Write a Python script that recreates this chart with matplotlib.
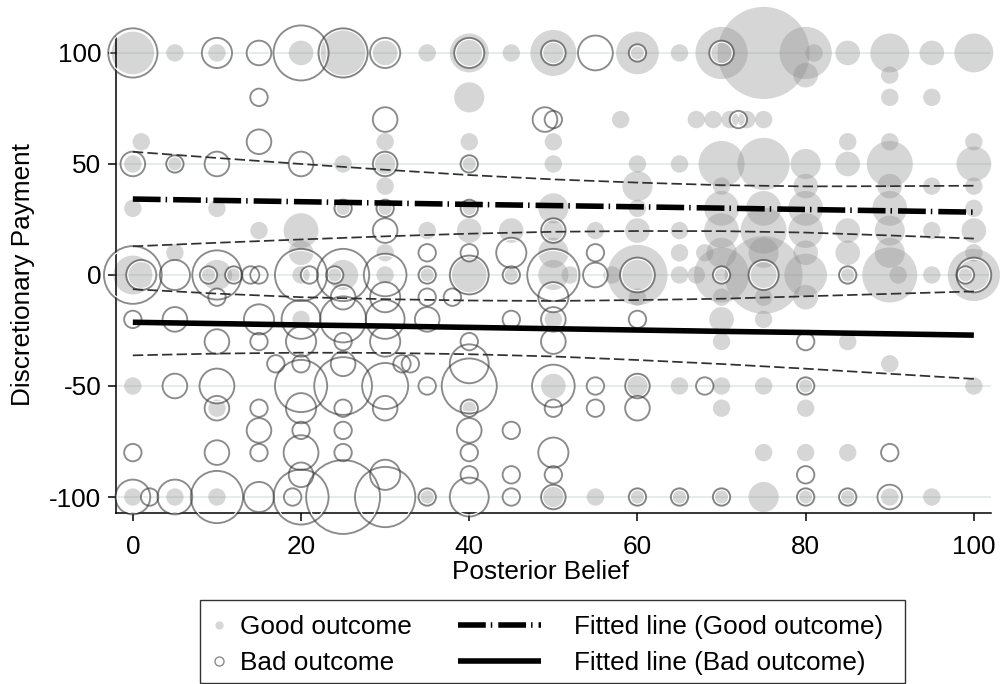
import matplotlib
matplotlib.use("Agg")
import matplotlib.pyplot as plt
from matplotlib.lines import Line2D
from matplotlib.patches import Rectangle
import numpy as np

plt.rcParams['font.family'] = ['Liberation Sans', 'DejaVu Sans']
plt.rcParams['axes.unicode_minus'] = False

# ---------------- data (x = posterior belief, y = payment, n = frequency) -------------
good_x = [0, 5, 10, 20, 25, 30, 35, 40, 45, 50, 60, 65, 70, 75, 80, 81, 85, 90, 95, 100,   # 100
          80, 90,                                                                          # 90
          40, 90, 95,                                                                      # 80
          58, 67, 69, 71, 73, 75,                                                          # 70
          1, 30, 40, 50, 85, 90, 100,                                                      # 60
          0, 5, 25, 30, 40, 50, 60, 65, 70, 75, 80, 85, 90, 100,                           # 50
          30, 60, 70, 80, 90, 95, 100,                                                     # 40
          0, 10, 25, 30, 40, 50, 60, 70, 75, 80, 90, 100,                                  # 30
          15, 20, 35, 40, 45, 50, 55, 60, 65, 70, 75, 80, 85, 90, 95, 100,                 # 20
          5, 20, 30, 50, 65, 68, 70, 75, 80, 85, 90, 100,                                  # 10
          0, 10, 12, 20, 25, 30, 35, 40, 45, 50, 52, 57, 60, 65, 67, 70, 75, 80, 85, 90, 91, 95, 100,  # 0
          60, 70, 75, 80,                                                                  # -10
          20, 50, 70, 75,                                                                  # -20
          70, 85,                                                                          # -30
          90,                                                                              # -40
          0, 50, 60, 65, 70, 75, 80, 100,                                                  # -50
          10, 40, 70, 80,                                                                  # -60
          75, 80, 85,                                                                      # -80
          0, 5, 10, 35, 50, 55, 60, 65, 70, 75, 80, 85, 90, 95]                            # -100
good_y = ([100] * 20 + [90] * 2 + [80] * 3 + [70] * 6 + [60] * 7 + [50] * 14 + [40] * 7 +
          [30] * 12 + [20] * 16 + [10] * 12 + [0] * 23 + [-10] * 4 + [-20] * 4 + [-30] * 2 +
          [-40] * 1 + [-50] * 8 + [-60] * 4 + [-80] * 3 + [-100] * 14)
good_n = [6, 1, 1, 2, 8, 2, 1, 5, 1, 7, 6, 1, 9, 28, 9, 1, 2, 5, 2, 5,
          2, 1,
          3, 1, 1,
          1, 1, 1, 1, 1, 1,
          1, 1, 1, 1, 1, 1, 1,
          1, 1, 1, 2, 1, 1, 1, 1, 7, 9, 3, 2, 7, 4,
          1, 3, 1, 2, 2, 1, 1,
          1, 1, 1, 1, 1, 3, 1, 4, 4, 4, 4, 1,
          1, 4, 1, 2, 2, 2, 1, 2, 1, 4, 7, 4, 2, 3, 1, 2,
          1, 2, 1, 3, 1, 1, 3, 3, 2, 2, 3, 1,
          5, 3, 1, 1, 3, 1, 1, 5, 1, 3, 1, 1, 12, 1, 1, 10, 20, 6, 1, 10, 1, 1, 9,
          1, 1, 1, 2,
          1, 1, 2, 1,
          1, 1,
          1,
          1, 2, 2, 1, 1, 1, 1, 1,
          1, 1, 1, 1,
          1, 1, 1,
          1, 1, 1, 1, 2, 1, 1, 1, 1, 3, 1, 1, 1, 1]

bad_x = [0, 10, 15, 20, 25, 30, 40, 50, 55, 60, 70,                                      # 100
         15,                                                                               # 80
         30, 49, 50, 72,                                                                   # 70
         15,                                                                               # 60
         0, 5, 10, 20, 30, 40,                                                             # 50
         25, 30, 40,                                                                       # 30
         30, 50,                                                                           # 20
         35, 40, 45, 55,                                                                   # 10
         0, 1, 5, 9, 10, 12, 14, 15, 20, 21, 24, 25, 30, 35, 40, 45, 50, 55, 60, 70, 75, 85, 99, 100,  # 0
         10, 25, 30, 35, 38, 50,                                                           # -10
         0, 5, 15, 20, 25, 30, 35, 45, 50, 60,                                             # -20
         10, 15, 20, 25, 30, 40, 50, 80,                                                   # -30
         17, 20, 25, 32, 33, 40,                                                           # -40
         5, 10, 20, 25, 30, 35, 40, 50, 55, 60, 68, 80,                                    # -50
         10, 15, 20, 25, 30, 40, 50, 55, 60,                                               # -60
         15, 20, 25, 40, 45,                                                               # -70
         0, 10, 15, 20, 25, 40, 50, 90,                                                    # -80
         20, 30, 40, 45, 50, 80,                                                           # -90
         0, 2, 5, 10, 15, 19, 20, 25, 30, 35, 40, 45, 50, 60, 65, 70, 80, 85, 90]          # -100
bad_y = ([100] * 11 + [80] * 1 + [70] * 4 + [60] * 1 + [50] * 6 + [30] * 3 + [20] * 2 +
         [10] * 4 + [0] * 24 + [-10] * 6 + [-20] * 10 + [-30] * 8 + [-40] * 6 + [-50] * 12 +
         [-60] * 9 + [-70] * 5 + [-80] * 8 + [-90] * 6 + [-100] * 19)
bad_n = [8, 3, 2, 10, 8, 3, 3, 2, 4, 1, 2,
         1,
         2, 2, 1, 1,
         2,
         2, 1, 2, 2, 2, 1,
         1, 1, 1,
         2, 2,
         1, 1, 3, 1,
         11, 3, 3, 1, 8, 1, 1, 1, 9, 1, 1, 9, 6, 1, 5, 1, 9, 2, 4, 1, 3, 1, 1, 4,
         1, 2, 3, 1, 1, 3,
         1, 2, 3, 5, 7, 5, 2, 1, 2, 1,
         2, 1, 3, 1, 3, 1, 2, 1,
         1, 1, 2, 1, 1, 5,
         2, 4, 9, 11, 7, 1, 10, 6, 1, 2, 1, 1,
         2, 1, 3, 1, 2, 1, 1, 1, 2,
         2, 1, 1, 2, 1,
         1, 2, 1, 4, 1, 1, 3, 1,
         2, 3, 1, 1, 1, 1,
         4, 1, 4, 9, 3, 1, 10, 18, 12, 1, 5, 1, 2, 1, 1, 1, 1, 1, 2]

# fitted lines and 95% confidence bands, read at x = 0, 10, ..., 100
fit_x = [0, 10, 20, 30, 40, 50, 60, 70, 80, 90, 100]
good_fit = [34.2, 33.6, 33.0, 32.4, 31.8, 31.25, 30.7, 30.1, 29.5, 28.9, 28.3]
good_hi = [55.5, 52.7, 50.0, 47.4, 45.0, 43.05, 41.6, 40.45, 39.9, 40.0, 40.2]
good_lo = [12.9, 14.5, 16.0, 17.4, 18.6, 19.45, 19.8, 19.75, 19.1, 17.8, 16.4]
bad_fit = [-21.3, -21.9, -22.5, -23.0, -23.6, -24.2, -24.8, -25.4, -25.9, -26.5, -27.1]
bad_hi = [-6.4, -8.4, -10.0, -10.9, -11.5, -11.7, -11.3, -10.7, -9.6, -8.5, -7.4]
bad_lo = [-36.2, -35.4, -35.0, -35.1, -35.7, -36.7, -38.3, -40.1, -42.2, -44.5, -46.8]

x_ticks = [0, 20, 40, 60, 80, 100]
y_ticks = [-100, -50, 0, 50, 100]

# ---------------- drawing ----------------
FS = 18.8
fig = plt.figure(figsize=(10.01, 6.84), dpi=100)
ax = fig.add_axes([0.1159, 0.2500, 0.8738, 0.6963])
ax.set_xlim(-2, 102)
ax.set_ylim(-107.2, 107.3)

for yv in y_ticks:
    ax.axhline(yv, color='#e2eaec', lw=1.3, zorder=0)

S0 = 157.0
good_color = (0.55, 0.55, 0.55, 0.35)
ring_color = (0.22, 0.22, 0.22, 0.58)

ax.scatter(good_x, good_y, s=S0 * np.array(good_n), color=good_color,
           linewidths=0, zorder=2, clip_on=False)
s_bad = S0 * np.array(bad_n, dtype=float)
d_bad = np.sqrt(s_bad)
ax.scatter(bad_x, bad_y, s=(d_bad - 2.2) ** 2, facecolors='none', edgecolors='white',
           linewidths=0.9, zorder=3, clip_on=False)
ax.scatter(bad_x, bad_y, s=s_bad, facecolors='none', edgecolors=[ring_color],
           linewidths=1.35, zorder=3, clip_on=False)

dash_ci = (0, (6.0, 2.4))
ci_color = '#303030'
ax.plot(fit_x, good_hi, color=ci_color, lw=1.25, ls=dash_ci, zorder=4)
ax.plot(fit_x, good_lo, color=ci_color, lw=1.25, ls=dash_ci, zorder=4)
ax.plot(fit_x, bad_hi, color=ci_color, lw=1.25, ls=dash_ci, zorder=4)
ax.plot(fit_x, bad_lo, color=ci_color, lw=1.25, ls=dash_ci, zorder=4)

dashdot = (0, (5.0, 0.9, 0.27, 1.08))
ax.plot(fit_x, good_fit, color='black', lw=4.0, ls=dashdot, zorder=5)
ax.plot(fit_x, bad_fit, color='black', lw=4.0, ls='-', solid_capstyle='butt', zorder=5)

for side in ['top', 'right']:
    ax.spines[side].set_visible(False)
for side in ['left', 'bottom']:
    ax.spines[side].set_linewidth(1.1)
    ax.spines[side].set_color('black')

ax.set_xticks(x_ticks)
ax.set_yticks(y_ticks)
ax.tick_params(direction='out', length=5.5, width=1.1, labelsize=FS, colors='black')
ax.tick_params(axis='x', pad=10)
ax.tick_params(axis='y', pad=5)

fig.text(23 / 1001, 1 - 275 / 684, 'Discretionary Payment', rotation=90,
         ha='center', va='center', fontsize=FS)
fig.text(540 / 1001, 1 - 572 / 684, 'Posterior Belief', ha='center', va='center', fontsize=FS)

# legend
fig.patches.append(Rectangle((200 / 1001, 1 - 683 / 684), 705 / 1001, 83 / 684,
                             transform=fig.transFigure, fill=False,
                             edgecolor='#333333', lw=1.0))
hA = [Line2D([], [], ls='none', marker='o', markersize=6, markerfacecolor=good_color,
             markeredgewidth=0),
      Line2D([], [], ls='none', marker='o', markersize=6.5, markerfacecolor='none',
             markeredgecolor=ring_color, markeredgewidth=1.0)]
legA = fig.legend(hA, ['Good outcome', 'Bad outcome'], loc='center left',
                  bbox_to_anchor=(209 / 1001, 1 - 645 / 684), frameon=False, fontsize=FS,
                  handlelength=0.8, handletextpad=0.4, borderpad=0, borderaxespad=0,
                  labelspacing=0.45)
hB = [Line2D([], [], color='black', lw=4.0, ls=dashdot),
      Line2D([], [], color='black', lw=4.0, ls='-', solid_capstyle='butt')]
legB = fig.legend(hB, ['Fitted line (Good outcome)', 'Fitted line (Bad outcome)'],
                  loc='center left', bbox_to_anchor=(458 / 1001, 1 - 645 / 684),
                  frameon=False, fontsize=FS, handlelength=3.19, handletextpad=1.25,
                  borderpad=0, borderaxespad=0, labelspacing=0.45)

fig.savefig('out.png', dpi=100)
